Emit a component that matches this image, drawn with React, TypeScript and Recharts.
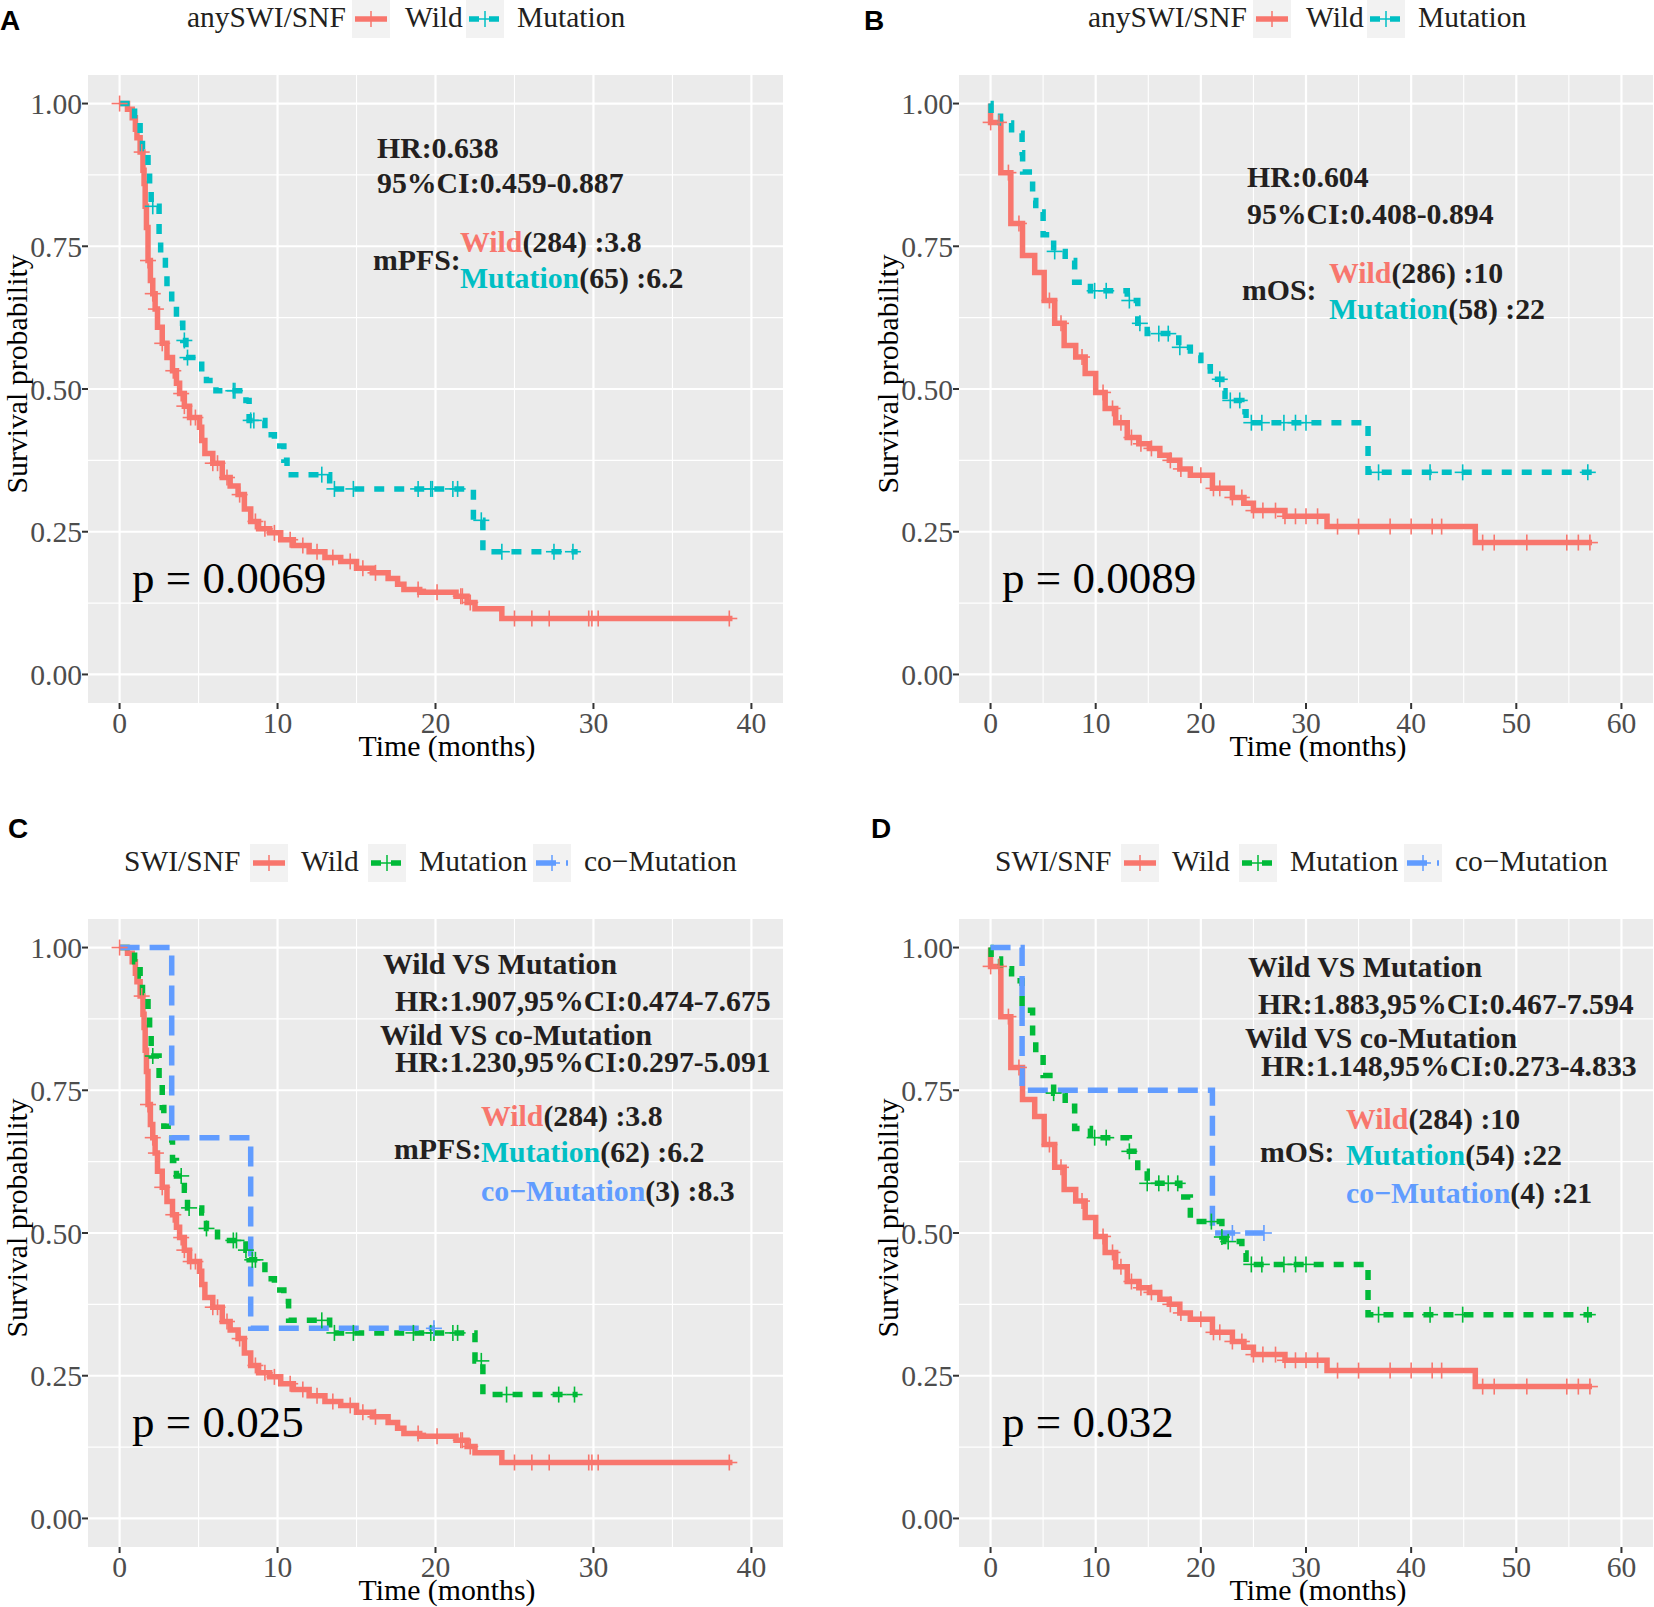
import React from 'react'
import { LineChart, Line, XAxis, YAxis, CartesianGrid } from 'recharts'

const WILD = '#F8766D'
const CYAN = '#00BFC4'
const GREEN = '#00BA38'
const BLUE = '#619CFF'
const SERIF = '"Liberation Serif", "Times New Roman", serif'
const SANS = '"Liberation Sans", Arial, sans-serif'
const INK = '#231F20'

// axes
const yTicks = [0, 0.25, 0.5, 0.75, 1]
const yMinor = [0.125, 0.375, 0.625, 0.875]
const pfsTicks = [0, 10, 20, 30, 40]
const pfsMinor = [5, 15, 25, 35]
const osTicks = [0, 10, 20, 30, 40, 50, 60]
const osMinor = [5, 15, 25, 35, 45, 55]

// PFS, wild type (panels A and C) : [time, survival after drop]
const wildPfsSteps = [
  [0, 1], [0.5, 0.99], [0.8, 0.975], [1.0, 0.955], [1.1, 0.94], [1.3, 0.915], [1.48, 0.883],
  [1.55, 0.86], [1.62, 0.82], [1.7, 0.783], [1.8, 0.725], [1.95, 0.69], [2.1, 0.667], [2.25, 0.64],
  [2.4, 0.608], [2.7, 0.58], [3.0, 0.555], [3.35, 0.532], [3.6, 0.51], [3.8, 0.492], [4.1, 0.47],
  [4.43, 0.45], [5.06, 0.433], [5.2, 0.41], [5.4, 0.387], [5.9, 0.37], [6.5, 0.345], [7.0, 0.33],
  [7.5, 0.315], [7.9, 0.29], [8.3, 0.268], [8.8, 0.255], [9.5, 0.248], [10.2, 0.236], [11.0, 0.226],
  [12.0, 0.215], [13.0, 0.205], [14.0, 0.198], [15.0, 0.186], [16.0, 0.178], [17.0, 0.168],
  [17.6, 0.158], [18.0, 0.149], [19.0, 0.144], [21.3, 0.137], [22.0, 0.126], [22.5, 0.115], [24.2, 0.098],
]
const wildPfsCens = [0, 1.4, 1.8, 2.1, 2.3, 2.7, 3.4, 3.9, 4.1, 4.5, 4.8, 5.9, 6.2, 6.8, 7.6, 8.6, 9.2, 9.8,
  10.8, 11.6, 12.5, 13.5, 14.6, 15.4, 16.2, 18.9, 20.1, 21.6, 21.7, 22.2, 25.0, 26.1, 27.2, 29.7, 29.9, 30.3, 38.6]
const wildPfsEnd = 38.8

// PFS, anySWI/SNF mutation (panel A)
const mutPfsSteps = [
  [0, 1], [0.95, 0.97], [1.3, 0.94], [1.45, 0.92], [1.8, 0.89], [1.9, 0.85], [2.0, 0.82], [2.5, 0.77],
  [2.6, 0.735], [2.9, 0.7], [3.0, 0.68], [3.3, 0.65], [3.6, 0.615], [4.0, 0.585], [4.2, 0.555],
  [5.2, 0.53], [5.5, 0.515], [6.1, 0.497], [8.0, 0.48], [8.2, 0.445], [9.2, 0.42], [9.8, 0.4],
  [10.4, 0.375], [10.6, 0.35], [13.3, 0.325], [22.4, 0.27], [23.0, 0.215],
]
const mutPfsCens = [2.1, 4.1, 4.3, 7.2, 7.3, 8.3, 8.5, 12.8, 13.6, 14.8, 18.9, 19.7, 19.8, 21.1, 21.4,
  22.9, 24.2, 27.5, 28.7]
const mutPfsEnd = 29.0

// PFS, single mutation (panel C)
const singlePfsSteps = [
  [0, 1], [0.95, 0.975], [1.3, 0.95], [1.45, 0.92], [1.8, 0.885], [1.9, 0.85], [2.0, 0.81], [2.5, 0.767],
  [2.7, 0.72], [2.8, 0.687], [3.3, 0.663], [3.35, 0.627], [3.6, 0.6], [4.1, 0.575], [4.3, 0.544],
  [5.2, 0.535], [5.5, 0.508], [6.2, 0.487], [8.0, 0.47], [8.2, 0.453], [9.2, 0.42], [9.8, 0.4],
  [10.4, 0.38], [10.7, 0.347], [13.3, 0.325], [22.5, 0.276], [23.0, 0.217],
]
const singlePfsCens = [2.1, 3.9, 4.4, 5.5, 7.2, 7.4, 8.0, 8.4, 8.6, 12.8, 13.6, 14.8, 18.6, 19.7, 19.9,
  21.1, 21.4, 22.9, 24.5, 27.8, 28.8]
const singlePfsEnd = 29.0

// PFS, co-mutation (panel C)
const coPfsSteps = [[0, 1], [3.3, 0.667], [8.3, 0.333]]
const coPfsCens = [19.9]
const coPfsEnd = 19.9

// OS, wild type (panels B and D)
const wildOsSteps = [
  [0, 1], [0, 0.967], [0.98, 0.879], [1.93, 0.79], [3.04, 0.734], [4.2, 0.704], [5.1, 0.655],
  [6.1, 0.615], [7.0, 0.576], [8.1, 0.556], [9.0, 0.527], [10.0, 0.494], [10.9, 0.466], [11.9, 0.441],
  [13.0, 0.415], [14.1, 0.404], [15.1, 0.396], [16.1, 0.384], [17.0, 0.375], [18.0, 0.36], [19.0, 0.349],
  [21.1, 0.326], [23.0, 0.31], [24.1, 0.3], [25.0, 0.287], [28.0, 0.277], [32.0, 0.259], [46.1, 0.231],
]
const wildOsCens = [0.01, 0.8, 1.7, 2.7, 5.6, 6.7, 8.7, 10.7, 11.6, 12.4, 13.4, 14.3, 15.3, 17.1, 18.1,
  20.0, 21.2, 21.8, 23.0, 23.9, 25.0, 25.9, 27.1, 28.0, 29.0, 30.0, 31.1, 33.0, 35.0, 38.0, 40.0, 42.0,
  42.9, 46.8, 47.9, 51.0, 54.8, 55.9, 57.0]
const wildOsEnd = 57.2

// OS, anySWI/SNF mutation (panel B)
const mutOsSteps = [
  [0, 1], [0.05, 0.983], [0.95, 0.966], [2.0, 0.948], [3.0, 0.914], [3.05, 0.88], [4.0, 0.83],
  [4.3, 0.81], [5.0, 0.77], [6.0, 0.741], [7.1, 0.725], [8.0, 0.687], [9.5, 0.672], [13.0, 0.655],
  [14.0, 0.615], [14.9, 0.597], [17.9, 0.573], [19.0, 0.559], [20.0, 0.539], [20.9, 0.517],
  [22.0, 0.497], [22.3, 0.48], [23.9, 0.46], [24.3, 0.441], [35.9, 0.354],
]
const mutOsCens = [6.1, 9.9, 11.0, 13.2, 14.2, 16.0, 16.9, 18.0, 21.8, 22.8, 23.7, 24.8, 25.8, 27.9,
  29.0, 30.0, 36.9, 41.8, 44.9, 56.8]
const mutOsEnd = 57.2

// OS, single mutation (panel D)
const singleOsSteps = [
  [0, 1], [0.05, 0.98], [0.95, 0.963], [2.0, 0.942], [3.0, 0.89], [4.0, 0.834], [4.3, 0.815],
  [5.0, 0.776], [6.0, 0.745], [7.1, 0.722], [8.0, 0.683], [9.5, 0.667], [13.2, 0.643], [14.0, 0.608],
  [14.9, 0.587], [18.0, 0.563], [19.0, 0.52], [22.0, 0.493], [22.3, 0.485], [23.9, 0.465],
  [24.3, 0.445], [35.9, 0.357],
]
const singleOsCens = [6.0, 9.9, 11.0, 13.2, 14.9, 16.0, 16.9, 17.8, 21.0, 22.0, 22.6, 24.8, 25.8,
  27.9, 29.0, 30.0, 36.9, 41.8, 44.9, 56.8]
const singleOsEnd = 57.2

// OS, co-mutation (panel D)
const coOsSteps = [[0, 1], [3.0, 0.75], [21.1, 0.5]]
const coOsCens = [23.0, 26.0]
const coOsEnd = 26.0

// survival level of a step curve at time t (value after any drop at t)
function levelAt(steps: number[][], t: number) {
  let s = 1
  for (const [st, sv] of steps) if (st <= t) s = sv
  return s
}

function curve(steps: number[][], cens: number[], end: number) {
  const pts = steps.map(([t, s]) => ({ t, s, c: 0 }))
  cens.forEach((t) => pts.push({ t, s: levelAt(steps, t), c: 1 }))
  pts.push({ t: end, s: levelAt(steps, end), c: 0 })
  return pts.sort((a, b) => a.t - b.t || b.s - a.s)
}

const DASH = '10 10'
const LONGDASH = '20 10'

const censorDot = (color: string) => (p: any) => {
  const { cx, cy, payload, index } = p
  if (!payload || !payload.c || cx == null || cy == null) return <g key={`n${index}`} />
  return (
    <g key={`c${index}`}>
      <line x1={cx - 8} x2={cx + 8} y1={cy} y2={cy} stroke={color} strokeWidth={1.6} />
      <line x1={cx} x2={cx} y1={cy - 8} y2={cy + 8} stroke={color} strokeWidth={1.6} />
    </g>
  )
}

type Series = { name: string; color: string; dash?: string; data: any[] }

function KmPanel({ left, top, width, axisW, right, xDomain, xTicks, xMinor, series }: {
  left: number; top: number; width: number; axisW: number; right: number
  xDomain: number[]; xTicks: number[]; xMinor: number[]; series: Series[]
}) {
  const tickStyle = { fill: '#4D4D4D', fontSize: 29.6, fontFamily: SERIF }
  return (
    <div style={{ position: 'absolute', left, top }}>
      <LineChart width={width} height={800} margin={{ top: 75, right, bottom: 0, left: 0 }}>
        <CartesianGrid fill="#EBEBEB" stroke="#FFFFFF" strokeWidth={1.1}
          horizontalValues={yMinor} verticalValues={xMinor} />
        <CartesianGrid stroke="#FFFFFF" strokeWidth={2.2} fillOpacity={0}
          horizontalValues={yTicks} verticalValues={xTicks} />
        <XAxis type="number" dataKey="t" domain={xDomain} ticks={xTicks} interval={0} allowDataOverflow
          height={97} axisLine={false} tickSize={6} tickMargin={3}
          tickLine={{ stroke: '#333333', strokeWidth: 2 }} tick={tickStyle} />
        <YAxis type="number" domain={[-0.05, 1.05]} ticks={yTicks} interval={0} allowDataOverflow
          width={axisW} axisLine={false} tickSize={6} tickMargin={0}
          tickLine={{ stroke: '#333333', strokeWidth: 2 }} tick={tickStyle}
          tickFormatter={(v: number) => v.toFixed(2)} />
        {series.map((sr) => (
          <Line key={sr.name} data={sr.data} dataKey="s" type="stepAfter" stroke={sr.color}
            strokeWidth={5.5} strokeDasharray={sr.dash} dot={censorDot(sr.color)} activeDot={false}
            isAnimationActive={false} />
        ))}
      </LineChart>
    </div>
  )
}

function LegendKey({ x, y, color, dash }: { x: number; y: number; color: string; dash?: string }) {
  return (
    <g>
      <rect x={x} y={y} width={38} height={38} fill="#F2F2F2" />
      <line x1={x + 3} x2={x + 35} y1={y + 19} y2={y + 19} stroke={color} strokeWidth={5.5}
        strokeDasharray={dash} />
      <line x1={x + 19} x2={x + 19} y1={y + 11} y2={y + 27} stroke={color} strokeWidth={1.5} />
      <line x1={x + 11} x2={x + 27} y1={y + 19} y2={y + 19} stroke={color} strokeWidth={1.5} />
    </g>
  )
}

function Txt({ x, y, children, size = 29.8, bold = true, fill = INK }: any) {
  return (
    <text x={x} y={y} fontSize={size} fontWeight={bold ? 'bold' : 'normal'} fill={fill} fontFamily={SERIF}>
      {children}
    </text>
  )
}

function Overlay() {
  const axisTitles = (dx: number, dy: number, key: string) => (
    <g key={key}>
      <text x={447 + dx} y={756 + dy} fontSize={29.8} textAnchor="middle" fill="#000" fontFamily={SERIF}>
        Time (months)
      </text>
      <text x={0} y={0} fontSize={29.8} textAnchor="middle" fill="#000" fontFamily={SERIF}
        transform={`translate(${27 + dx},${374 + dy}) rotate(-90)`}>
        Survival probability
      </text>
    </g>
  )
  return (
    <svg width={1654} height={1607} style={{ position: 'absolute', left: 0, top: 0, pointerEvents: 'none' }}>
      {/* panel letters */}
      <text x={0} y={30} fontSize={28} fontWeight="bold" fontFamily={SANS}>A</text>
      <text x={864} y={30} fontSize={28} fontWeight="bold" fontFamily={SANS}>B</text>
      <text x={8} y={838} fontSize={28} fontWeight="bold" fontFamily={SANS}>C</text>
      <text x={871} y={838} fontSize={28} fontWeight="bold" fontFamily={SANS}>D</text>

      {axisTitles(0, 0, 'a')}
      {axisTitles(871, 0, 'b')}
      {axisTitles(0, 844, 'c')}
      {axisTitles(871, 844, 'd')}

      {/* legends row 1 */}
      {[0, 901].map((dx) => (
        <g key={`l${dx}`}>
          <Txt x={187 + dx} y={27} size={29.5} bold={false}>anySWI/SNF</Txt>
          <LegendKey x={352 + dx} y={0} color={WILD} />
          <Txt x={405 + dx} y={27} size={29.5} bold={false}>Wild</Txt>
          <LegendKey x={466 + dx} y={0} color={CYAN} dash={DASH} />
          <Txt x={517 + dx} y={27} size={29.5} bold={false}>Mutation</Txt>
        </g>
      ))}
      {/* legends row 2 */}
      {[0, 871].map((dx) => (
        <g key={`m${dx}`}>
          <Txt x={124 + dx} y={871} size={29.5} bold={false}>SWI/SNF</Txt>
          <LegendKey x={250 + dx} y={844} color={WILD} />
          <Txt x={301 + dx} y={871} size={29.5} bold={false}>Wild</Txt>
          <LegendKey x={368 + dx} y={844} color={GREEN} dash={DASH} />
          <Txt x={419 + dx} y={871} size={29.5} bold={false}>Mutation</Txt>
          <LegendKey x={533 + dx} y={844} color={BLUE} dash={LONGDASH} />
          <Txt x={584 + dx} y={871} size={29.5} bold={false}>co−Mutation</Txt>
        </g>
      ))}

      {/* panel A */}
      <Txt x={377} y={158}>HR:0.638</Txt>
      <Txt x={377} y={193}>95%CI:0.459-0.887</Txt>
      <Txt x={373} y={270}>mPFS:</Txt>
      <Txt x={460} y={252}><tspan fill={WILD}>Wild</tspan>(284) :3.8</Txt>
      <Txt x={460} y={288}><tspan fill={CYAN}>Mutation</tspan>(65) :6.2</Txt>
      <Txt x={132} y={593} size={45} bold={false} fill="#000">p = 0.0069</Txt>

      {/* panel B */}
      <Txt x={1247} y={187}>HR:0.604</Txt>
      <Txt x={1247} y={224}>95%CI:0.408-0.894</Txt>
      <Txt x={1242} y={300}>mOS:</Txt>
      <Txt x={1329} y={283}><tspan fill={WILD}>Wild</tspan>(286) :10</Txt>
      <Txt x={1329} y={319}><tspan fill={CYAN}>Mutation</tspan>(58) :22</Txt>
      <Txt x={1002} y={593} size={45} bold={false} fill="#000">p = 0.0089</Txt>

      {/* panel C */}
      <Txt x={383} y={974}>Wild VS Mutation</Txt>
      <Txt x={395} y={1011}>HR:1.907,95%CI:0.474-7.675</Txt>
      <Txt x={380} y={1045}>Wild VS co-Mutation</Txt>
      <Txt x={395} y={1072}>HR:1.230,95%CI:0.297-5.091</Txt>
      <Txt x={481} y={1126}><tspan fill={WILD}>Wild</tspan>(284) :3.8</Txt>
      <Txt x={394} y={1159}>mPFS:</Txt>
      <Txt x={481} y={1162}><tspan fill={CYAN}>Mutation</tspan>(62) :6.2</Txt>
      <Txt x={481} y={1201}><tspan fill={BLUE}>co−Mutation</tspan>(3) :8.3</Txt>
      <Txt x={132} y={1437} size={45} bold={false} fill="#000">p = 0.025</Txt>

      {/* panel D */}
      <Txt x={1248} y={977}>Wild VS Mutation</Txt>
      <Txt x={1258} y={1014}>HR:1.883,95%CI:0.467-7.594</Txt>
      <Txt x={1245} y={1048}>Wild VS co-Mutation</Txt>
      <Txt x={1261} y={1076}>HR:1.148,95%CI:0.273-4.833</Txt>
      <Txt x={1346} y={1129}><tspan fill={WILD}>Wild</tspan>(284) :10</Txt>
      <Txt x={1260} y={1162}>mOS:</Txt>
      <Txt x={1346} y={1165}><tspan fill={CYAN}>Mutation</tspan>(54) :22</Txt>
      <Txt x={1346} y={1203}><tspan fill={BLUE}>co−Mutation</tspan>(4) :21</Txt>
      <Txt x={1002} y={1437} size={45} bold={false} fill="#000">p = 0.032</Txt>
    </svg>
  )
}

export default function App() {
  const wildPfs = curve(wildPfsSteps, wildPfsCens, wildPfsEnd)
  const wildOs = curve(wildOsSteps, wildOsCens, wildOsEnd)
  const seriesA: Series[] = [
    { name: 'Wild', color: WILD, data: wildPfs },
    { name: 'Mutation', color: CYAN, dash: DASH, data: curve(mutPfsSteps, mutPfsCens, mutPfsEnd) },
  ]
  const seriesB: Series[] = [
    { name: 'Wild', color: WILD, data: wildOs },
    { name: 'Mutation', color: CYAN, dash: DASH, data: curve(mutOsSteps, mutOsCens, mutOsEnd) },
  ]
  const seriesC: Series[] = [
    { name: 'Wild', color: WILD, data: wildPfs },
    { name: 'Mutation', color: GREEN, dash: DASH, data: curve(singlePfsSteps, singlePfsCens, singlePfsEnd) },
    { name: 'co-Mutation', color: BLUE, dash: LONGDASH, data: curve(coPfsSteps, coPfsCens, coPfsEnd) },
  ]
  const seriesD: Series[] = [
    { name: 'Wild', color: WILD, data: wildOs },
    { name: 'Mutation', color: GREEN, dash: DASH, data: curve(singleOsSteps, singleOsCens, singleOsEnd) },
    { name: 'co-Mutation', color: BLUE, dash: LONGDASH, data: curve(coOsSteps, coOsCens, coOsEnd) },
  ]
  return (
    <div style={{ position: 'absolute', left: 0, top: 0, width: 1654, height: 1607, background: '#FFFFFF', overflow: 'hidden', fontFamily: SERIF }}>
      <KmPanel left={0} top={0} width={830} axisW={88} right={47} xDomain={[-2, 42]} xTicks={pfsTicks} xMinor={pfsMinor} series={seriesA} />
      <KmPanel left={830} top={0} width={824} axisW={129} right={1} xDomain={[-3, 63]} xTicks={osTicks} xMinor={osMinor} series={seriesB} />
      <KmPanel left={0} top={844} width={830} axisW={88} right={47} xDomain={[-2, 42]} xTicks={pfsTicks} xMinor={pfsMinor} series={seriesC} />
      <KmPanel left={830} top={844} width={824} axisW={129} right={1} xDomain={[-3, 63]} xTicks={osTicks} xMinor={osMinor} series={seriesD} />
      <Overlay />
    </div>
  )
}
